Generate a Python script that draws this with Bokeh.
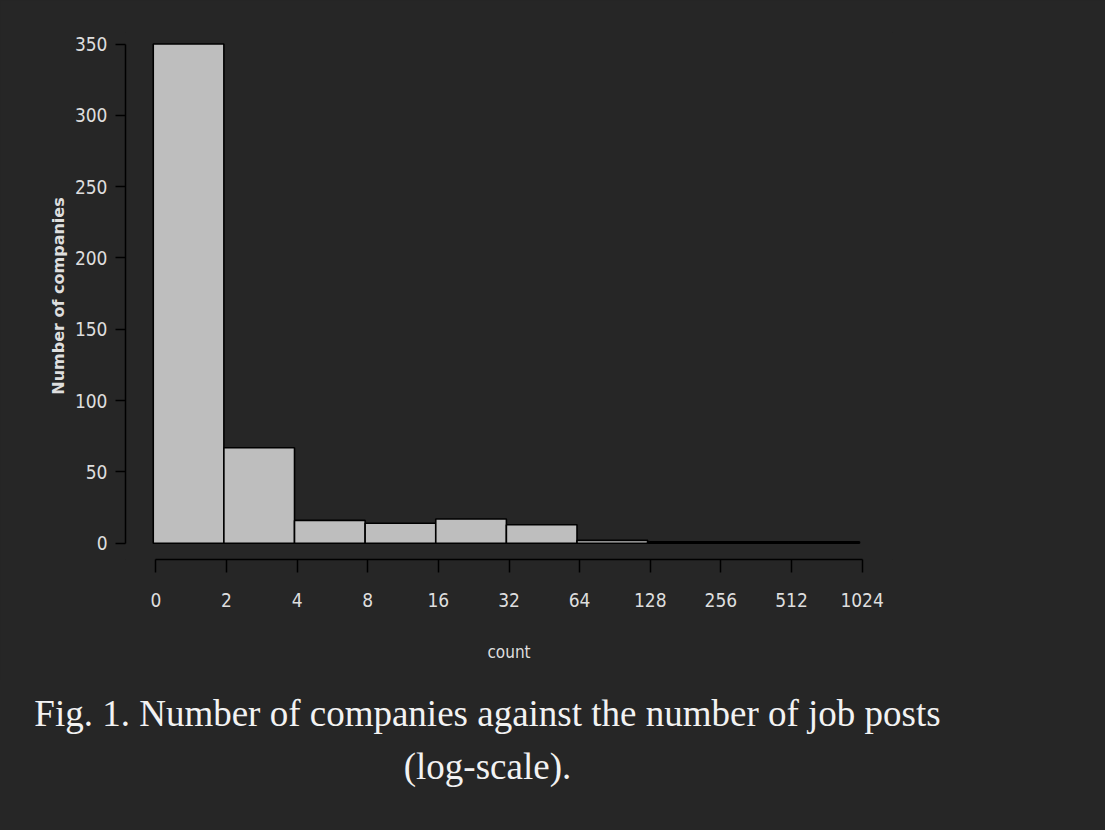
from bokeh.plotting import figure
from bokeh.models import FixedTicker, ColumnDataSource, Div
from bokeh.layouts import column
from bokeh.embed import file_html
from bokeh.resources import INLINE

# ---- data ----
bin_index = [0, 1, 2, 3, 4, 5, 6, 7, 8, 9]            # log2 bins: 0-2, 2-4, ... 512-1024
companies = [350, 67, 16, 14, 17, 13, 2, 1, 1, 1]
tick_labels = ["0", "2", "4", "8", "16", "32", "64", "128", "256", "512", "1024"]
y_ticks = [0, 50, 100, 150, 200, 250, 300, 350]
caption_line1 = "Fig. 1. Number of companies against the number of job posts"
caption_line2 = "(log-scale)."

BG = "#262626"
TXT = "#dedede"
BAR_SHIFT = -0.037
NARROW = "DejaVu Sans Condensed"

src = ColumnDataSource(dict(
    left=[i + BAR_SHIFT for i in bin_index],
    right=[i + 1 + BAR_SHIFT for i in bin_index],
    top=companies,
    bottom=[0] * len(companies),
))

p = figure(width=1105, height=680, output_backend="svg", toolbar_location=None,
           x_range=(-0.43, 10.43), y_range=(-11.4, 358.1),
           min_border_left=125, min_border_right=213,
           min_border_top=32, min_border_bottom=121)

p.background_fill_color = BG
p.border_fill_color = BG
p.outline_line_color = None
p.styles = {"background-color": BG}
p.xgrid.visible = False
p.ygrid.visible = False

p.quad(left="left", right="right", top="top", bottom="bottom", source=src,
       fill_color="#bebebe", line_color="black", line_width=1.6)

# x axis
xa = p.xaxis[0]
xa.ticker = FixedTicker(ticks=list(range(len(tick_labels))))
xa.major_label_overrides = {i: t for i, t in enumerate(tick_labels)}
xa.bounds = (0, len(tick_labels) - 1)
xa.axis_line_color = "black"
xa.axis_line_width = 1.5
xa.major_tick_line_color = "black"
xa.major_tick_line_width = 1.5
xa.major_tick_out = 13
xa.major_tick_in = 0
xa.minor_tick_line_color = None
xa.major_label_standoff = 20
xa.major_label_text_font = NARROW
xa.major_label_text_font_size = "19px"
xa.major_label_text_color = TXT
xa.axis_label = "count"
xa.axis_label_text_font = NARROW
xa.axis_label_text_font_size = "17px"
xa.axis_label_text_font_style = "normal"
xa.axis_label_text_color = TXT
xa.axis_label_standoff = 32

# y axis
ya = p.yaxis[0]
ya.ticker = FixedTicker(ticks=y_ticks)
ya.bounds = (y_ticks[0], y_ticks[-1])
ya.axis_line_color = "black"
ya.axis_line_width = 1.5
ya.major_tick_line_color = "black"
ya.major_tick_line_width = 1.5
ya.major_tick_out = 10
ya.major_tick_in = 0
ya.minor_tick_line_color = None
ya.major_label_standoff = 8
ya.major_label_orientation = "horizontal"
ya.major_label_text_font = NARROW
ya.major_label_text_font_size = "19px"
ya.major_label_text_color = TXT
ya.axis_label = "Number of companies"
ya.axis_label_text_font = "DejaVu Sans"
ya.axis_label_text_font_size = "16px"
ya.axis_label_text_font_style = "bold"
ya.axis_label_text_color = TXT
ya.axis_label_standoff = 4

# caption below the chart
caption_html = (
    '<div style="width:975px;text-align:center;font-family:\'Liberation Serif\',serif;'
    'font-size:37px;line-height:53px;color:#f2f2f2;padding-top:7px;margin:0;">'
    f'{caption_line1}<br>{caption_line2}</div>'
)
cap = Div(text=caption_html, width=1105, height=150,
          styles={"background-color": BG, "margin": "0", "padding": "0"})

layout = column(p, cap, spacing=0, styles={"background-color": BG})

open("out.html", "w").write(file_html(layout, INLINE))
